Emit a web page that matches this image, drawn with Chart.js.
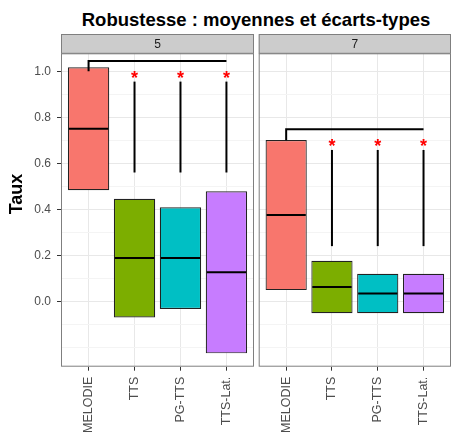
<!DOCTYPE html>
<html>
<head>
<meta charset="utf-8">
<script src="https://cdn.jsdelivr.net/npm/chart.js@4.4.1/dist/chart.umd.min.js"></script>
<style>
  body { margin: 0; background: #fff; }
  #wrap { position: relative; width: 452px; height: 432px; overflow: hidden; font-family: "Liberation Sans", Arial, sans-serif; }
  #title { position: absolute; left: 56px; top: 11px; width: 400px; text-align: center; font-weight: bold; font-size: 18.5px; line-height: 18px; color: #000; white-space: nowrap; }
  canvas { position: absolute; top: 0; }
</style>
</head>
<body>
<div id="wrap">
  <div id="title">Robustesse : moyennes et écarts-types</div>
  <canvas id="left" width="256" height="432" style="left:0"></canvas>
  <canvas id="right" width="196" height="432" style="left:256px"></canvas>
</div>
<script>
// facets and categories
const facets = ['5', '7'];
const categories = ['MELODIE', 'TTS', 'PG-TTS', 'TTS-Lat.'];
const colors = ['#F8766D', '#7CAE00', '#00BFC4', '#C77CFF'];

// mean and standard deviation per facet
const mean5 = [0.75, 0.188, 0.188, 0.126];
const sd5 = [0.267, 0.258, 0.221, 0.352];
const mean7 = [0.375, 0.062, 0.034, 0.034];
const sd7 = [0.326, 0.114, 0.086, 0.086];

// y axis
const yBreaks = [0, 0.2, 0.4, 0.6, 0.8, 1.0];
const yTickLabels = ['0.0', '0.2', '0.4', '0.6', '0.8', '1.0'];
const yMinorBreaks = [-0.2, -0.1, 0.1, 0.3, 0.5, 0.7, 0.9];
const yMin = -0.284, yMax = 1.078;

// significance marks (per facet): bracket height, drop end on MELODIE, segment top/bottom, asterisk
const bracketY = [1.045, 0.748];
const dropEnd = [1.0, 0.70];
const sigTop = [0.955, 0.658];
const sigBottom = [0.56, 0.24];
const starY = [0.99, 0.694];

Chart.defaults.font.family = '"Liberation Sans", Arial, sans-serif';

const isMajor = v => yBreaks.some(b => Math.abs(b - v) < 1e-6);

const facetPlugin = {
  id: 'facet',
  afterDatasetsDraw(chart, args, opts) {
    const f = opts.facet;
    const means = f === 0 ? mean5 : mean7;
    const { ctx } = chart;
    const x = chart.scales.x, y = chart.scales.y;
    const meta = chart.getDatasetMeta(0);
    ctx.save();
    // mean lines
    ctx.strokeStyle = '#000';
    ctx.lineWidth = 2;
    meta.data.forEach((bar, i) => {
      const py = y.getPixelForValue(means[i]);
      ctx.beginPath();
      ctx.moveTo(bar.x - bar.width / 2 + 1, py);
      ctx.lineTo(bar.x + bar.width / 2 - 1, py);
      ctx.stroke();
    });
    // bracket from MELODIE to the others
    const by = y.getPixelForValue(bracketY[f]);
    ctx.beginPath();
    ctx.moveTo(x.getPixelForValue(1), y.getPixelForValue(dropEnd[f]));
    ctx.lineTo(x.getPixelForValue(1), by);
    ctx.lineTo(x.getPixelForValue(4), by);
    ctx.stroke();
    for (let i = 2; i <= 4; i++) {
      const px = x.getPixelForValue(i);
      ctx.beginPath();
      ctx.moveTo(px, y.getPixelForValue(sigTop[f]));
      ctx.lineTo(px, y.getPixelForValue(sigBottom[f]));
      ctx.stroke();
      ctx.fillStyle = '#FF0000';
      ctx.font = 'bold 18px "Liberation Sans", Arial, sans-serif';
      ctx.textAlign = 'center';
      ctx.textBaseline = 'alphabetic';
      ctx.fillText('*', px, y.getPixelForValue(starY[f]) + 10);
    }
    ctx.restore();
  },
  afterDraw(chart, args, opts) {
    const { ctx, chartArea: a } = chart;
    ctx.save();
    // panel border
    ctx.strokeStyle = '#7F7F7F';
    ctx.lineWidth = 1;
    ctx.strokeRect(a.left + 0.5, a.top + 0.5, a.right - a.left - 1, a.bottom - a.top - 1);
    // strip
    const st = 34.5;
    ctx.fillStyle = '#CCCCCC';
    ctx.fillRect(a.left, st, a.right - a.left, a.top - st);
    ctx.strokeRect(a.left + 0.5, st, a.right - a.left - 1, a.top - st);
    ctx.fillStyle = '#1A1A1A';
    ctx.font = '12px "Liberation Sans", Arial, sans-serif';
    ctx.textAlign = 'center';
    ctx.textBaseline = 'middle';
    ctx.fillText(facets[opts.facet], (a.left + a.right) / 2, (st + a.top) / 2 + 1);
    // y axis title
    if (opts.yTitle) {
      ctx.translate(17, 194);
      ctx.rotate(-Math.PI / 2);
      ctx.fillStyle = '#000';
      ctx.font = 'bold 18px "Liberation Sans", Arial, sans-serif';
      ctx.fillText(opts.yTitle, 0, 0);
    }
    ctx.restore();
  }
};

function makeChart(id, f, means, sds, showY) {
  const data = means.map((m, i) => ({ x: i + 1, y: [m - sds[i], m + sds[i]] }));
  return new Chart(document.getElementById(id).getContext('2d'), {
    type: 'bar',
    data: {
      datasets: [{
        data: data,
        backgroundColor: colors,
        borderColor: '#222222',
        borderWidth: 1.2,
        borderSkipped: false,
        barPercentage: 0.9,
        categoryPercentage: 1
      }]
    },
    options: {
      responsive: false,
      animation: false,
      layout: { padding: { top: 53.3, right: showY ? 2 : 1, left: showY ? 0 : 2.7, bottom: 0 } },
      plugins: {
        legend: { display: false },
        tooltip: { enabled: false },
        facet: { facet: f, yTitle: showY ? 'Taux' : '' }
      },
      scales: {
        x: {
          type: 'linear',
          offset: false,
          min: 0.4,
          max: 4.6,
          afterBuildTicks: s => { s.ticks = categories.map((c, i) => ({ value: i + 1 })); },
          afterFit: s => { s.height = 432 - 366.7; },
          ticks: {
            callback: v => categories[v - 1],
            minRotation: 90,
            maxRotation: 90,
            autoSkip: false,
            padding: 6,
            color: '#4D4D4D',
            font: { size: 12.5 }
          },
          grid: { color: '#E8E8E8', tickColor: '#333333', tickLength: 4, offset: false },
          border: { display: false }
        },
        y: {
          min: yMin,
          max: yMax,
          afterBuildTicks: s => {
            s.ticks = yMinorBreaks.concat(yBreaks).sort((a, b) => a - b).map(v => ({ value: v }));
          },
          afterFit: s => { s.width = showY ? 61 : 0; },
          ticks: {
            display: showY,
            callback: v => {
              const k = yBreaks.findIndex(b => Math.abs(b - v) < 1e-6);
              return k >= 0 ? yTickLabels[k] : '';
            },
            padding: 6,
            color: '#4D4D4D',
            font: { size: 12 }
          },
          grid: {
            color: c => isMajor(c.tick.value) ? '#E8E8E8' : '#F4F4F4',
            tickColor: c => isMajor(c.tick.value) ? '#333333' : 'rgba(0,0,0,0)',
            tickLength: 4,
            drawTicks: showY
          },
          border: { display: false }
        }
      }
    },
    plugins: [facetPlugin]
  });
}

makeChart('left', 0, mean5, sd5, true);
makeChart('right', 1, mean7, sd7, false);
</script>
</body>
</html>
